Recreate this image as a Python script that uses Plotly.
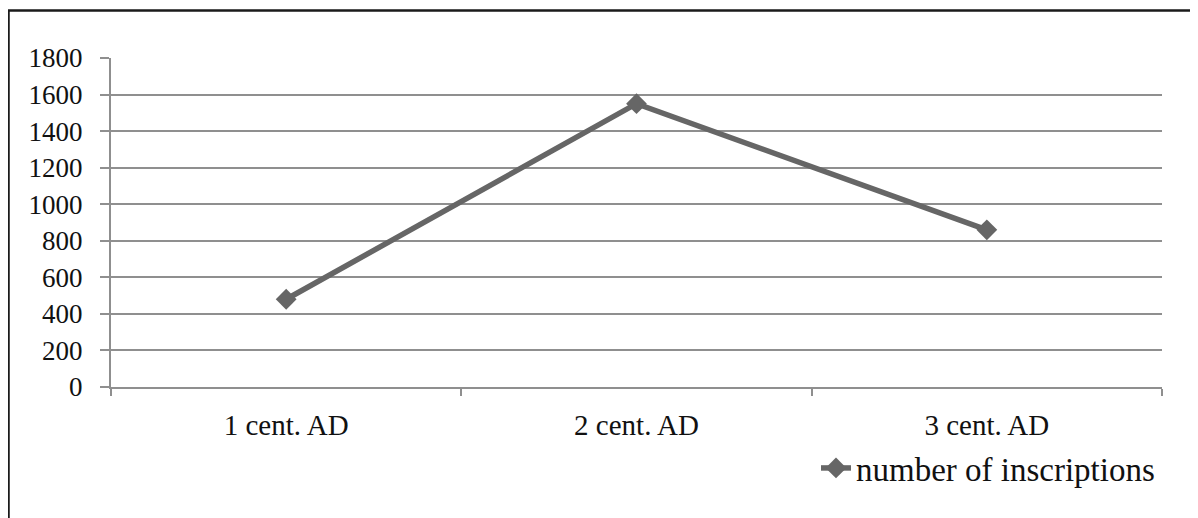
import plotly.graph_objects as go

categories = ["1 cent. AD", "2 cent. AD", "3 cent. AD"]
inscriptions = [480, 1550, 860]
series_name = "number of inscriptions"
y_ticks = [0, 200, 400, 600, 800, 1000, 1200, 1400, 1600, 1800]

# page body has an 8px margin; work in screen px and convert
OFF = 8
W, H = 1190, 510
L = 111 - OFF
T = 58 - OFF
R = W - (1162 - OFF)
B = H - (387 - OFF)
pw, ph = W - L - R, H - T - B

def px_x(sx):
    return (sx - OFF - L) / pw

def px_y(sy):
    return (H - B - (sy - OFF)) / ph

FONT = "Liberation Serif"
GRID = "#8f8f8f"

fig = go.Figure()
fig.add_trace(go.Scatter(
    x=categories, y=inscriptions, name=series_name, mode="lines+markers",
    line=dict(color="#666666", width=5.5),
    marker=dict(symbol="diamond", size=16, color="#666666"),
    showlegend=True,
))

fig.update_layout(
    width=W, height=H,
    margin=dict(l=L, r=R, t=T, b=B),
    paper_bgcolor="white", plot_bgcolor="white",
    font=dict(family=FONT, size=26, color="#111111"),
    xaxis=dict(
        type="category", range=[-0.5, 2.5], tickson="boundaries",
        showgrid=False, showline=True, linecolor=GRID, linewidth=2,
        ticks="outside", ticklen=7, tickcolor=GRID, tickwidth=2,
        ticklabelstandoff=11, zeroline=False,
        tickfont=dict(family=FONT, size=29, color="#111111"),
    ),
    yaxis=dict(
        range=[0, 1800], tickvals=y_ticks, ticktext=[str(v) for v in y_ticks],
        showgrid=True, gridcolor=GRID, gridwidth=2,
        showline=True, linecolor=GRID, linewidth=2,
        ticks="outside", ticklen=9, tickcolor=GRID, tickwidth=2,
        ticklabelstandoff=12, zeroline=False,
        tickfont=dict(family=FONT, size=27, color="#111111"),
    ),
    legend=dict(
        x=px_x(1160), y=px_y(468), xanchor="right", yanchor="middle",
        orientation="h", font=dict(family=FONT, size=33, color="#111111"),
        bgcolor="rgba(0,0,0,0)",
    ),
    shapes=[dict(
        type="rect", xref="paper", yref="paper",
        x0=px_x(8.5), x1=px_x(1260), y0=px_y(600), y1=px_y(10.5),
        line=dict(color="#1a1a1a", width=2.5), fillcolor="rgba(0,0,0,0)",
        layer="below",
    )],
)

fig.write_html("out.html")
